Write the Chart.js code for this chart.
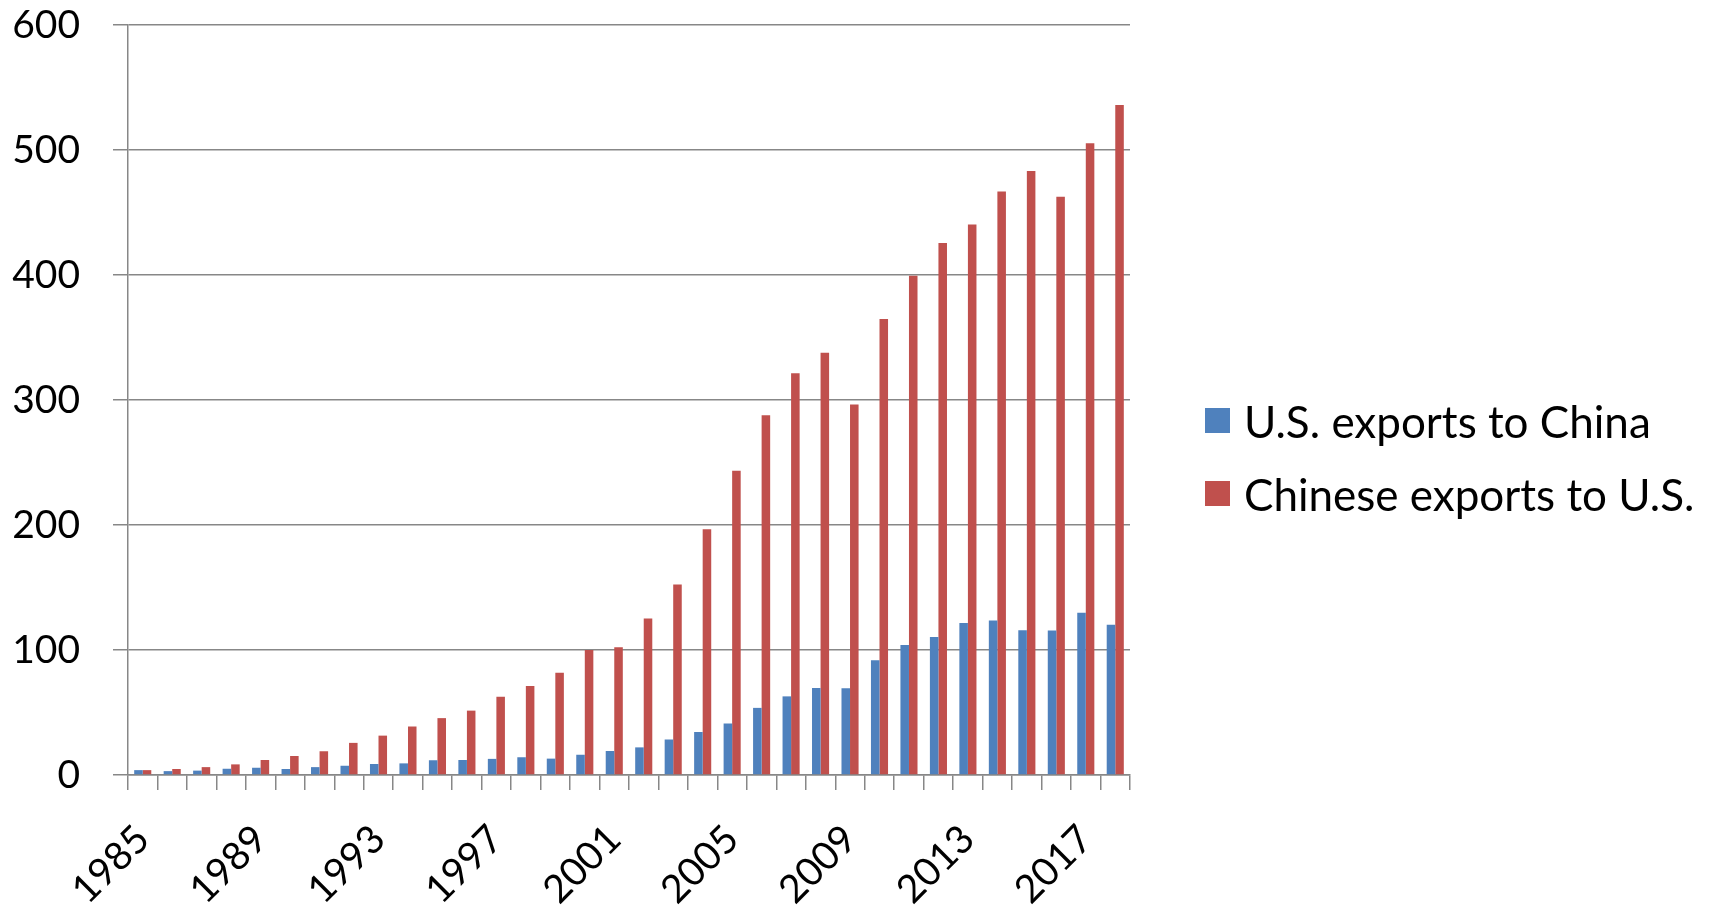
<!DOCTYPE html>
<html>
<head>
<meta charset="utf-8">
<title>U.S.–China trade in goods, 1985–2018</title>
<script src="https://cdn.jsdelivr.net/npm/chart.js@4.4.1/dist/chart.umd.min.js"></script>
<style>
  html, body { margin: 0; padding: 0; background: #ffffff; }
  #wrap { position: relative; width: 1711px; height: 907px; }
  #legend {
    position: absolute;
    left: 1205px;
    top: 384px;
    margin: 0;
    padding: 0;
    list-style: none;
    font-family: 'Lato', sans-serif;
    font-size: 44px;
    color: #000000;
  }
  #legend li {
    display: flex;
    align-items: center;
    height: 73px;
    white-space: nowrap;
  }
  #legend .swatch {
    display: inline-block;
    width: 25px;
    height: 25px;
    margin-right: 14px;
    flex: none;
  }
</style>
</head>
<body>
<div id="wrap">
  <canvas id="trade"></canvas>
  <ul id="legend"></ul>
</div>
<script>
// Years on the category axis
const years = [
  1985, 1986, 1987, 1988, 1989, 1990, 1991, 1992, 1993, 1994,
  1995, 1996, 1997, 1998, 1999, 2000, 2001, 2002, 2003, 2004,
  2005, 2006, 2007, 2008, 2009, 2010, 2011, 2012, 2013, 2014,
  2015, 2016, 2017, 2018
];

// Billions of U.S. dollars
const usExportsToChina = [
  3.9, 3.1, 3.5, 5.0, 5.8, 4.8, 6.3, 7.4, 8.8, 9.3,
  11.8, 12.0, 12.9, 14.2, 13.1, 16.2, 19.2, 22.1, 28.4, 34.4,
  41.2, 53.7, 62.9, 69.7, 69.5, 91.9, 104.1, 110.5, 121.7, 123.7,
  115.9, 115.6, 129.9, 120.3
];

const chineseExportsToUS = [
  3.9, 4.8, 6.3, 8.5, 12.0, 15.2, 19.0, 25.7, 31.5, 38.8,
  45.5, 51.5, 62.6, 71.2, 81.8, 100.0, 102.3, 125.2, 152.4, 196.7,
  243.5, 287.8, 321.4, 337.8, 296.4, 364.9, 399.4, 425.6, 440.4, 466.8,
  483.2, 462.6, 505.5, 536.0
];

const seriesNames = ['U.S. exports to China', 'Chinese exports to U.S.'];
const seriesColors = ['#4F81BD', '#C0504D'];
const yTicks = { min: 0, max: 600, step: 100 };
const labelEvery = 4;

const gridGrey = '#878787';

const chart = new Chart(document.getElementById('trade'), {
  type: 'bar',
  data: {
    labels: years.map(String),
    datasets: [
      { label: seriesNames[0], data: usExportsToChina, backgroundColor: seriesColors[0] },
      { label: seriesNames[1], data: chineseExportsToUS, backgroundColor: seriesColors[1] }
    ]
  },
  options: {
    responsive: true,
    maintainAspectRatio: false,
    animation: false,
    devicePixelRatio: 1,
    // room on the right is kept for the HTML legend
    layout: { padding: { top: 25, right: 581, left: 0, bottom: 0 } },
    datasets: {
      bar: { categoryPercentage: 0.58, barPercentage: 1.0 }
    },
    plugins: {
      tooltip: { enabled: false },
      legend: { display: false }
    },
    scales: {
      x: {
        grid: {
          offset: true,
          drawOnChartArea: false,
          drawTicks: true,
          tickLength: 15,
          color: gridGrey,
          lineWidth: 1.5
        },
        border: { display: true, color: gridGrey, width: 1.5 },
        ticks: {
          autoSkip: false,
          maxRotation: 45,
          minRotation: 45,
          padding: 26,
          color: '#000000',
          font: { family: 'Lato', size: 39 },
          callback: function (value, index) {
            return index % labelEvery === 0 ? this.getLabelForValue(value) : '';
          }
        },
        afterFit: function (scale) {
          scale.height = 132;
          scale.paddingLeft = 0;
          scale.paddingRight = 0;
        }
      },
      y: {
        min: yTicks.min,
        max: yTicks.max,
        ticks: {
          stepSize: yTicks.step,
          padding: 33,
          color: '#000000',
          font: { family: 'Lato', size: 39 }
        },
        grid: {
          color: gridGrey,
          lineWidth: 1.5,
          tickLength: 15
        },
        border: { display: true, color: gridGrey, width: 1.5 },
        afterFit: function (scale) {
          scale.width = 128;
          scale.paddingTop = 0;
          scale.paddingBottom = 0;
        }
      }
    }
  }
});

// Legend entries built from the chart's own datasets
const legendList = document.getElementById('legend');
chart.data.datasets.forEach(function (ds) {
  const li = document.createElement('li');
  const sw = document.createElement('span');
  sw.className = 'swatch';
  sw.style.background = ds.backgroundColor;
  li.appendChild(sw);
  li.appendChild(document.createTextNode(ds.label));
  legendList.appendChild(li);
});
</script>
</body>
</html>
